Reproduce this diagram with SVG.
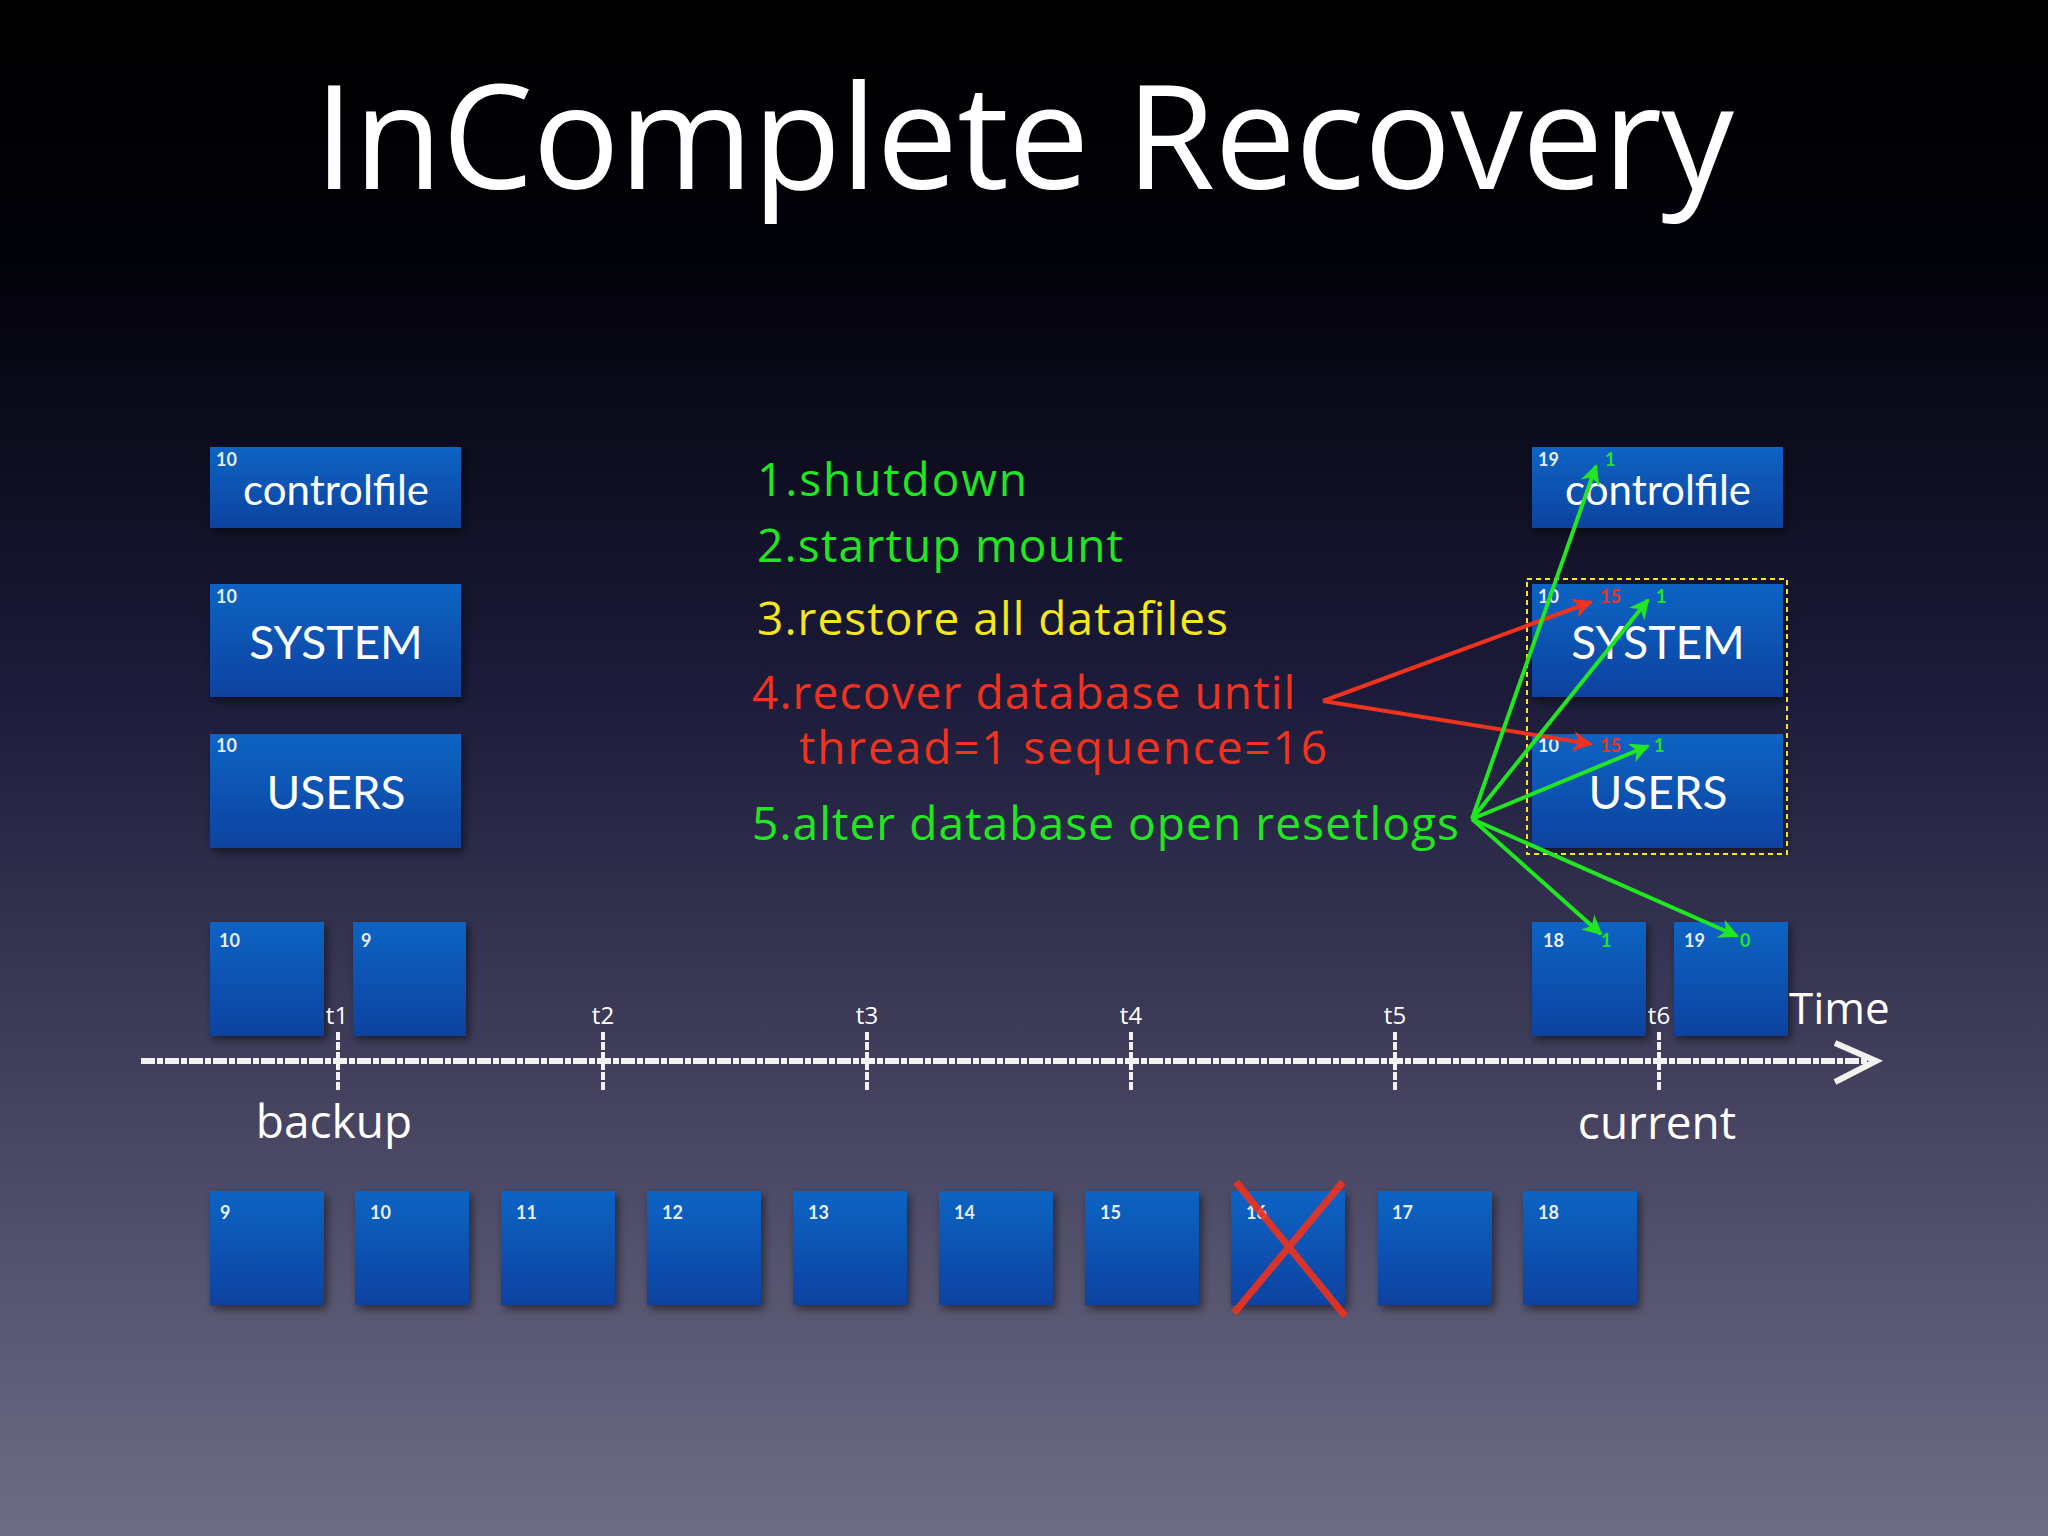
<svg xmlns="http://www.w3.org/2000/svg" width="2048" height="1536" viewBox="0 0 2048 1536">
<defs>
<linearGradient id="bg" x1="0" y1="0" x2="0" y2="1">
<stop offset="0" stop-color="#000"/><stop offset="0.17" stop-color="#02020a"/><stop offset="0.45" stop-color="#1c1b3a"/><stop offset="1" stop-color="#6f6c86"/>
</linearGradient>
<linearGradient id="box" x1="0" y1="0" x2="0" y2="1">
<stop offset="0" stop-color="#0a64c4"/><stop offset="1" stop-color="#0a42a0"/>
</linearGradient>
<marker id="ag" viewBox="0 0 10 10" refX="9" refY="5" markerWidth="5" markerHeight="5" orient="auto"><path d="M0,0 L10,5 L0,10 L3,5 z" fill="#22e622"/></marker>
<marker id="ar" viewBox="0 0 10 10" refX="9" refY="5" markerWidth="5" markerHeight="5" orient="auto"><path d="M0,0 L10,5 L0,10 L3,5 z" fill="#f0321e"/></marker>
<filter id="sh" x="-10%" y="-10%" width="130%" height="130%"><feDropShadow dx="3" dy="4" stdDeviation="4" flood-opacity="0.5"/></filter>
</defs>
<style>
.b{fill:url(#box);filter:url(#sh)}
.n{font-family:Lato,"Open Sans",sans-serif;font-size:18px;font-weight:bold;fill:#e8eef8}
.gn{fill:#22e622}
.rn{fill:#f0321e}
.l{font-family:Lato,"Open Sans",sans-serif;fill:#fff;text-anchor:middle}
.s{font-family:"Open Sans",Lato,sans-serif;font-size:46px}
.t{font-family:"Open Sans",sans-serif;font-size:24px;fill:#fff;text-anchor:middle}
.g{stroke:#22e622;stroke-width:4;fill:none;marker-end:url(#ag)}
.r{stroke:#f0321e;stroke-width:4;fill:none;marker-end:url(#ar)}
</style>
<rect width="2048" height="1536" fill="url(#bg)"/>
<text x="1024" y="189" text-anchor="middle" font-family="'Open Sans',sans-serif" font-size="145" fill="#fff" textLength="1420">InComplete Recovery</text>

<g id="ctl-left"><rect class="b" x="210" y="447" width="251" height="81"/><text class="n" x="216" y="466">10</text><text class="l" x="336" y="505" font-size="42">controlfile</text></g>
<g id="sys-left"><rect class="b" x="210" y="584" width="251" height="113"/><text class="n" x="216" y="603">10</text><text class="l" x="336" y="659" font-size="46">SYSTEM</text></g>
<g id="usr-left"><rect class="b" x="210" y="734" width="251" height="114"/><text class="n" x="216" y="752">10</text><text class="l" x="336" y="809" font-size="46">USERS</text></g>

<g id="ctl-right"><rect class="b" x="1532" y="447" width="251" height="81"/><text class="n" x="1538" y="466">19</text><text class="n gn" x="1605" y="466">1</text><text class="l" x="1658" y="505" font-size="42">controlfile</text></g>
<g id="sys-right"><rect class="b" x="1532" y="584" width="251" height="113"/><text class="n" x="1538" y="603">10</text><text class="n rn" x="1600" y="603">15</text><text class="n gn" x="1656" y="603">1</text><text class="l" x="1658" y="659" font-size="46">SYSTEM</text></g>
<g id="usr-right"><rect class="b" x="1532" y="734" width="251" height="114"/><text class="n" x="1538" y="752">10</text><text class="n rn" x="1600" y="752">15</text><text class="n gn" x="1654" y="752">1</text><text class="l" x="1658" y="809" font-size="46">USERS</text></g>
<rect id="sel" x="1527" y="579" width="260" height="275" fill="none" stroke="#f5e61e" stroke-width="2" stroke-dasharray="5,4"/>

<g id="log-top-10"><rect class="b" x="210" y="922" width="114" height="114"/><text class="n" x="219" y="947">10</text></g>
<g id="log-top-9"><rect class="b" x="353" y="922" width="113" height="114"/><text class="n" x="361" y="947">9</text></g>
<g id="log-top-18"><rect class="b" x="1532" y="922" width="114" height="114"/><text class="n" x="1543" y="947">18</text><text class="n gn" x="1601" y="947">1</text></g>
<g id="log-top-19"><rect class="b" x="1674" y="922" width="114" height="114"/><text class="n" x="1684" y="947">19</text><text class="n gn" x="1740" y="947">0</text></g>

<g id="log-row">
<rect class="b" x="210" y="1191" width="114" height="114"/><text class="n" x="220" y="1219">9</text>
<rect class="b" x="355" y="1191" width="114" height="114"/><text class="n" x="370" y="1219">10</text>
<rect class="b" x="501" y="1191" width="114" height="114"/><text class="n" x="516" y="1219">11</text>
<rect class="b" x="647" y="1191" width="114" height="114"/><text class="n" x="662" y="1219">12</text>
<rect class="b" x="793" y="1191" width="114" height="114"/><text class="n" x="808" y="1219">13</text>
<rect class="b" x="939" y="1191" width="114" height="114"/><text class="n" x="954" y="1219">14</text>
<rect class="b" x="1085" y="1191" width="114" height="114"/><text class="n" x="1100" y="1219">15</text>
<rect class="b" x="1231" y="1191" width="114" height="114"/><text class="n" x="1246" y="1219">16</text>
<rect class="b" x="1378" y="1191" width="114" height="114"/><text class="n" x="1392" y="1219">17</text>
<rect class="b" x="1523" y="1191" width="114" height="114"/><text class="n" x="1538" y="1219">18</text>
<path d="M1236,1182 L1345,1316 M1343,1182 L1234,1313" stroke="#f0321e" stroke-width="7" opacity="0.9"/>
</g>

<g id="timeline" stroke="#f2f2f2" fill="none">
<line x1="141" y1="1061" x2="1870" y2="1061" stroke-width="6" stroke-dasharray="14,2,6,2"/>
<path d="M1835,1043 L1876,1061 L1835,1082" stroke-width="6"/>
<g stroke-width="4" stroke-dasharray="8,2">
<line x1="338" y1="1032" x2="338" y2="1090"/><line x1="603" y1="1032" x2="603" y2="1090"/><line x1="867" y1="1032" x2="867" y2="1090"/><line x1="1131" y1="1032" x2="1131" y2="1090"/><line x1="1395" y1="1032" x2="1395" y2="1090"/><line x1="1659" y1="1032" x2="1659" y2="1090"/>
</g>
</g>
<g id="time-labels">
<text class="t" x="337" y="1024">t1</text><text class="t" x="603" y="1024">t2</text><text class="t" x="867" y="1024">t3</text><text class="t" x="1131" y="1024">t4</text><text class="t" x="1395" y="1024">t5</text><text class="t" x="1659" y="1024">t6</text>
<text x="1789" y="1024" font-family="'Open Sans',sans-serif" font-size="44" fill="#fff">Time</text>
<text x="334" y="1138" text-anchor="middle" font-family="'Open Sans',sans-serif" font-size="46" fill="#fff">backup</text>
<text x="1657" y="1139" text-anchor="middle" font-family="'Open Sans',sans-serif" font-size="46" fill="#fff">current</text>
</g>

<g id="steps" class="s">
<text x="757" y="496" fill="#22e622" textLength="270">1.shutdown</text>
<text x="757" y="562" fill="#22e622" textLength="366">2.startup mount</text>
<text x="757" y="635" fill="#f5e61e" textLength="471">3.restore all datafiles</text>
<text x="752" y="709" fill="#f0321e" textLength="543">4.recover database until</text>
<text x="799" y="764" fill="#f0321e" textLength="528">thread=1 sequence=16</text>
<text x="752" y="840" fill="#22e622" textLength="707">5.alter database open resetlogs</text>
</g>

<g id="connectors">
<line class="r" x1="1323" y1="701" x2="1591" y2="602"/>
<line class="r" x1="1323" y1="701" x2="1591" y2="744"/>
<line class="g" x1="1472" y1="819" x2="1596" y2="466"/>
<line class="g" x1="1472" y1="819" x2="1648" y2="600"/>
<line class="g" x1="1472" y1="819" x2="1648" y2="746"/>
<line class="g" x1="1472" y1="819" x2="1601" y2="934"/>
<line class="g" x1="1472" y1="819" x2="1737" y2="936"/>
</g>
</svg>
